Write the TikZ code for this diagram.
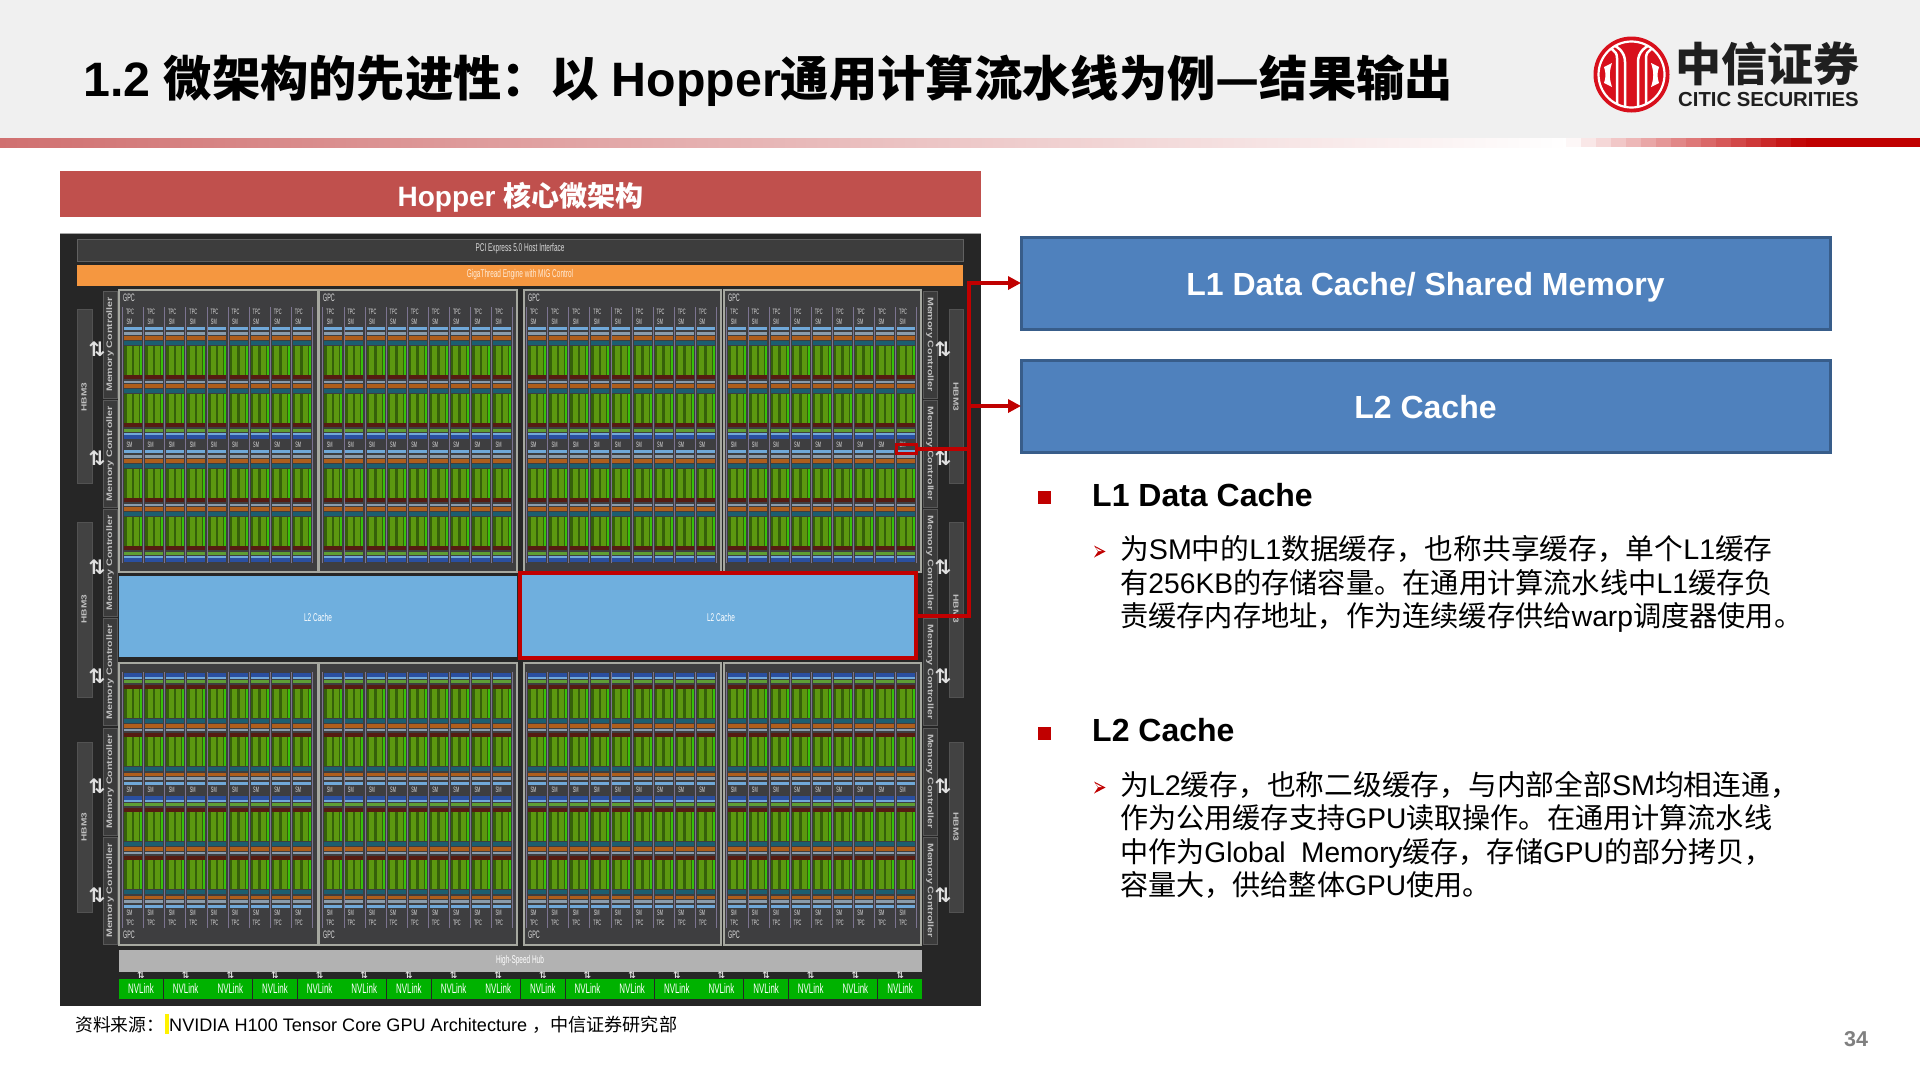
\documentclass[tikz,border=0pt]{standalone}
\usepackage{fontspec}
\usetikzlibrary{arrows.meta}
\setmainfont{Liberation Sans}
\newfontfamily\cjk{Noto Sans CJK SC}
\newfontfamily\dv{DejaVu Sans}
\newcommand{\zh}[1]{{\cjk #1}}
\newcommand{\fs}[1]{\fontsize{#1}{#1}\selectfont}
\definecolor{citicred}{HTML}{C00000}
\definecolor{logored}{HTML}{D8101C}
\definecolor{boxblue}{HTML}{4F81BD}
\definecolor{boxedge}{HTML}{385D8A}
\definecolor{chipbg}{HTML}{262626}
\definecolor{panel}{HTML}{3E3E40}
\definecolor{panelline}{HTML}{A6A8A0}
\definecolor{lblue}{HTML}{70A8D8}
\definecolor{gblue}{HTML}{8A9CAC}
\definecolor{ored}{HTML}{AE5E1C}
\definecolor{teal1}{HTML}{1C5E70}
\definecolor{gdark}{HTML}{35600A}
\definecolor{gbright}{HTML}{5C9810}
\definecolor{dred}{HTML}{561C12}
\definecolor{gbar}{HTML}{5E9E34}
\definecolor{dblue}{HTML}{2A4FA0}
\definecolor{sepl}{HTML}{7C7490}
\definecolor{orangebar}{HTML}{F59740}
\definecolor{titlered}{HTML}{C0504D}
\definecolor{barleft}{HTML}{D07070}
\definecolor{cachefill}{HTML}{6FAFDE}
\tikzset{
  bodyline/.style={anchor=base west,inner sep=0pt,font=\fs{28.4},text=black},
  headline/.style={anchor=base west,inner sep=0pt,font=\bfseries\fs{32},text=black},
  bluebox/.style={draw=boxedge,line width=3pt,outer sep=0pt,fill=boxblue,minimum width=809pt,minimum height=92pt,inner sep=0pt,text=white,font=\bfseries\fs{32},text height=24pt,text depth=0pt},
  redconn/.style={draw=citicred,line width=4pt},
  gpcframe/.style={draw=panelline,line width=1.4pt,fill=panel},
  chiptext/.style={inner sep=0pt,text=#1,font=\fs{9},xscale=.72,yscale=1.25},
  chiptext/.default={white!85!black},
  mctext/.style={inner sep=0pt,text=white!75!black,font=\bfseries\fs{8}},
  hbmtext/.style={inner sep=0pt,text=white!75!black,font=\bfseries\fs{7.5}},
  tinylab/.style={inner sep=0pt,text=white!85!black,font=\fs{6.5},xscale=.6,yscale=1.2},
  sidebox/.style={fill=white!26!black,draw=white!32!black,line width=.6pt},
  mcbox/.style={fill=white!23!black,draw=white!35!black,line width=.6pt},
  bulletsq/.style={fill=citicred,inner sep=0pt,minimum size=13pt},
  arrowmark/.style={inner sep=0pt,text=white!88!black,font=\dv\bfseries\fs{20}}
}
\newcommand{\strip}[4]{\fill[#4] (#1,#2) rectangle (#1+18,#3);}
\newcommand{\greenblock}[3]{%
  \fill[gdark] (#1,#2) rectangle (#1+18,#3);
  \fill[gbright] (#1+2.5,#2) rectangle (#1+7.5,#3);
  \fill[gbright] (#1+10,#2) rectangle (#1+15,#3);
  \fill[green!40!gbright] (#1+16,#2) rectangle (#1+18,#3);}
\newcommand{\halfcol}[2]{%
  \strip{#1}{#2+327}{#2+330}{lblue}
  \strip{#1}{#2+332}{#2+335}{gblue}
  \strip{#1}{#2+336}{#2+339.5}{ored}
  \strip{#1}{#2+341}{#2+345}{teal1}
  \greenblock{#1}{#2+346}{#2+375}
  \strip{#1}{#2+375}{#2+379}{dred}
  \strip{#1}{#2+381}{#2+383}{gblue}
  \strip{#1}{#2+384}{#2+388}{ored}
  \strip{#1}{#2+389}{#2+393}{teal1}
  \greenblock{#1}{#2+394}{#2+423}
  \strip{#1}{#2+423}{#2+427}{dred}
  \strip{#1}{#2+429}{#2+432}{gbar}
  \strip{#1}{#2+433}{#2+435}{lblue}
  \strip{#1}{#2+435}{#2+439}{dblue}}
\newcommand{\gpcpanel}[4]{%
  \draw[gpcframe] (#1,290) rectangle (#2,572);
  \foreach \c in {0,...,8}{
    \pgfmathsetmacro{\cx}{#3+\c*21.1}
    \halfcol{\cx}{0}
    \halfcol{\cx}{123}
    \draw[sepl,line width=.9pt] (\cx-1.4,307) -- (\cx-1.4,563);
  }
  \draw[sepl,line width=.9pt] (#3+188.5,307) -- (#3+188.5,563);}
\newcommand{\gpclabels}[4]{%
  \foreach \c in {0,...,8}{
    \pgfmathsetmacro{\cx}{#1+\c*21.1+6}
    \pgfmathsetmacro{\ya}{#3==0 ? 312 : 923}
    \pgfmathsetmacro{\yb}{#3==0 ? 322 : 913}
    \pgfmathsetmacro{\yc}{#3==0 ? 445 : 790}
    \node[tinylab] (tpc#4\c) at (\cx,\ya) {TPC};
    \node[tinylab] (sma#4\c) at (\cx-.5,\yb) {SM};
    \node[tinylab] (smb#4\c) at (\cx-.5,\yc) {SM};
  }
  \pgfmathsetmacro{\yg}{#3==0 ? 298 : 935}
  \node[tinylab,font=\fs{9},anchor=west] (gpc#4) at (#2+4,\yg) {GPC};}
\begin{document}
\begin{tikzpicture}[x=1pt,y=-1pt]
\useasboundingbox (0,0) rectangle (1920,1080);
\fill[white] (0,0) rectangle (1920,1080);
% header
\fill[white!94!black] (0,0) rectangle (1920,138);
\shade[left color=barleft,right color=white] (0,138) rectangle (1568,147);
\foreach \i in {0,...,15}{
  \pgfmathsetmacro{\pc}{(\i+.5)*100/16}
  \fill[citicred!\pc!white] (1566+\i*15,138) rectangle (1581.5+\i*15,147);
}
\fill[citicred] (1806,138) rectangle (1920,147);
\node[anchor=base west,inner sep=0pt,text=black,font=\bfseries\fs{48.3}] (title) at (83,96)
  {1.2 \zh{微架构的先进性：以} Hopper\zh{通用计算流水线为例—结果输出}};
% logo
\fill[logored] (1631.5,74.5) circle (38);
\draw[white,line width=2.2pt] (1631.5,74.5) circle (33);
\begin{scope}[white,line width=2.5pt]
  \clip (1631.5,74.5) circle (33);
  \draw (1625,110) -- (1625,62) .. controls (1625,52) and (1618,46) .. (1608,43);
  \draw (1638,110) -- (1638,62) .. controls (1638,52) and (1645,46) .. (1655,43);
  \draw (1617,110) -- (1617,58) .. controls (1617,50) and (1610,47) .. (1602,47);
  \draw (1646,110) -- (1646,58) .. controls (1646,50) and (1653,47) .. (1661,47);
  \fill (1604,67) -- (1612,63) .. controls (1609,72) and (1609,78) .. (1612,87) -- (1604,83) .. controls (1606,77) and (1606,73) .. (1604,67) -- cycle;
  \fill (1659,67) -- (1651,63) .. controls (1654,72) and (1654,78) .. (1651,87) -- (1659,83) .. controls (1657,77) and (1657,73) .. (1659,67) -- cycle;
\end{scope}
\node[anchor=base west,inner sep=0pt,text=black!88,font=\bfseries\fs{46}] (logozh) at (1675,81) {\zh{中信证券}};
\node[anchor=base west,inner sep=0pt,text=black!88,font=\bfseries\fs{20.3}] (logoen) at (1678,106) {CITIC SECURITIES};
% left title
\node[fill=titlered,minimum width=921pt,minimum height=46pt,inner sep=0pt,text=white,font=\bfseries\fs{28},text height=24pt,text depth=0pt] (lefthead) at (520.5,194) {Hopper \zh{核心微架构}};
% chip
\fill[chipbg] (60,233) rectangle (981,1006);
\draw[white!65!black,line width=.8pt] (60,233) -- (981,233);
\fill[white!24!black] (77,239) rectangle (963,261);
\draw[white!38!black,line width=1pt] (77,239) rectangle (963,261);
\node[chiptext] (pcie) at (520,249) {PCI Express 5.0 Host Interface};
\fill[orangebar] (77,265) rectangle (963,286);
\node[chiptext={white!85!orange}] (giga) at (520,275) {GigaThread Engine with MIG Control};
% side HBM
\foreach \a/\b in {309/483,522/697,742/912}{
  \draw[sidebox] (77,\a) rectangle (92,\b);
  \draw[sidebox] (949,\a) rectangle (963,\b);
}
\node[hbmtext,rotate=90,xscale=1.35] (hl1) at (84,397) {HBM3};
\node[hbmtext,rotate=90,xscale=1.35] (hl2) at (84,609) {HBM3};
\node[hbmtext,rotate=90,xscale=1.35] (hl3) at (84,827) {HBM3};
\node[hbmtext,rotate=-90,xscale=1.35] (hr1) at (956,397) {HBM3};
\node[hbmtext,rotate=-90,xscale=1.35] (hr2) at (956,609) {HBM3};
\node[hbmtext,rotate=-90,xscale=1.35] (hr3) at (956,827) {HBM3};
% memory controllers
\foreach \i in {0,...,5}{
  \pgfmathsetmacro{\ya}{291+\i*109.2}
  \pgfmathsetmacro{\yb}{\ya+107}
  \pgfmathsetmacro{\ym}{\ya+53.5}
  \pgfmathsetmacro{\yk}{\ya+58}
  \draw[mcbox] (103,\ya) rectangle (117,\yb);
  \draw[mcbox] (923,\ya) rectangle (937,\yb);
  \node[mctext,rotate=90,xscale=1.33] (mcl\i) at (110,\ym) {Memory Controller};
  \node[mctext,rotate=-90,xscale=1.33] (mcr\i) at (930,\ym) {Memory Controller};
  \node[arrowmark] (al\i) at (97,\yk) {⇅};
  \node[arrowmark] (ar\i) at (943,\yk) {⇅};
}
% top GPCs
\gpcpanel{119}{318}{124}{a}
\gpcpanel{319}{517}{324.3}{b}
\gpcpanel{524}{721}{528}{c}
\gpcpanel{724}{921}{728.3}{d}
% bottom GPCs (mirrored)
\begin{scope}[shift={(0,1235)},yscale=-1]
\gpcpanel{119}{318}{124}{e}
\gpcpanel{319}{517}{324.3}{f}
\gpcpanel{524}{721}{528}{g}
\gpcpanel{724}{921}{728.3}{h}
\end{scope}
\gpclabels{124}{119}{0}{a}
\gpclabels{324.3}{319}{0}{b}
\gpclabels{528}{524}{0}{c}
\gpclabels{728.3}{724}{0}{d}
\gpclabels{124}{119}{1}{e}
\gpclabels{324.3}{319}{1}{f}
\gpclabels{528}{524}{1}{g}
\gpclabels{728.3}{724}{1}{h}
% L2 caches
\fill[cachefill] (119,576) rectangle (517,657);
\fill[cachefill] (519,575) rectangle (916,656);
\node[chiptext=white] (l2a) at (318,617) {L2 Cache};
\node[chiptext=white] (l2b) at (721,617) {L2 Cache};
% hub and NVLink
\fill[white!70!black] (119,950) rectangle (922,972);
\node[chiptext=white] (hub) at (520,961) {High-Speed Hub};
\foreach \i in {0,...,17}{
  \pgfmathsetmacro{\xa}{119+\i*44.65}
  \pgfmathsetmacro{\xb}{\xa+44}
  \pgfmathsetmacro{\xm}{\xa+22}
  \fill[green!70!black] (\xa,979) rectangle (\xb,999);
  \node[chiptext=white,font=\fs{11}] (nv\i) at (\xm,989) {NVLink};
  \node[inner sep=0pt,text=white!88!black,font=\dv\bfseries\fs{9}] (nva\i) at (\xm,975) {⇅};
}
% red highlights
\node[draw=citicred,line width=4pt,minimum width=396pt,minimum height=85pt,inner sep=0pt] (l2red) at (717.5,615.5) {};
\node[draw=citicred,line width=3pt,minimum width=20pt,minimum height=9pt,inner sep=0pt] (l1red) at (906.5,449) {};
% blue boxes
\node[bluebox] (box1) at (1425.5,283) {L1 Data Cache/ Shared Memory};
\node[bluebox] (box2) at (1425.5,406) {L2 Cache};
% connectors
\coordinate (bus) at (969,449);
\draw[redconn,-{Triangle[length=13pt,width=13pt]}] (l2red.east) -| (bus |- box1.west) -- (box1.west);
\draw[redconn,-{Triangle[length=13pt,width=13pt]}] (bus |- box2.west) -- (box2.west);
\draw[redconn] (l1red.east) -- (bus);
% right text
\node[bulletsq] (b1) at (1044.5,497) {};
\node[bulletsq] (b2) at (1044.5,733) {};
\node[headline] (h1) at (1092,506) {L1 Data Cache};
\node[headline] (h2) at (1092,741) {L2 Cache};
\foreach \cy in {551.5,787.5}{
  \fill[citicred] (1094,\cy-6) -- (1105.5,\cy) -- (1094,\cy+6) -- (1098,\cy) -- cycle;
  \fill[white] (1095.8,\cy-3.9) -- (1102,\cy-.4) -- (1098.2,\cy-.4) -- cycle;
}
\node[bodyline,xscale=1.011] (p1) at (1120,559) {\zh{为}SM\zh{中的}L1\zh{数据缓存，也称共享缓存，单个}L1\zh{缓存}};
\node[bodyline,xscale=.994] (p2) at (1120,593) {\zh{有}256KB\zh{的存储容量。在通用计算流水线中}L1\zh{缓存负}};
\node[bodyline,xscale=.994] (p3) at (1120,626) {\zh{责缓存内存地址，作为连续缓存供给}warp\zh{调度器使用。}};
\node[bodyline,xscale=1.012] (q1) at (1120,795) {\zh{为}L2\zh{缓存，也称二级缓存，与内部全部}SM\zh{均相连通，}};
\node[bodyline,xscale=.991] (q2) at (1120,828) {\zh{作为公用缓存支持}GPU\zh{读取操作。在通用计算流水线}};
\node[bodyline,xscale=.989] (q3) at (1120,862) {\zh{中作为}Global\ \ Memory\zh{缓存，存储}GPU\zh{的部分拷贝，}};
\node[bodyline,xscale=.99] (q4) at (1120,895) {\zh{容量大，供给整体}GPU\zh{使用。}};
% footer
\fill[yellow] (165,1014) rectangle (169,1034);
\node[anchor=base west,inner sep=0pt,text=black,font=\fs{17.8}] (src1) at (75,1031) {\zh{资料来源：}};
\node[anchor=base west,inner sep=0pt,text=black,font=\fs{18.1}] (src2) at (169,1031) {NVIDIA H100 Tensor Core GPU Architecture \zh{，}\zh{中信证券研究部}};
\node[anchor=base west,inner sep=0pt,text=black!50,font=\bfseries\fs{21.5}] (pg) at (1844,1046) {34};
\end{tikzpicture}
\end{document}
